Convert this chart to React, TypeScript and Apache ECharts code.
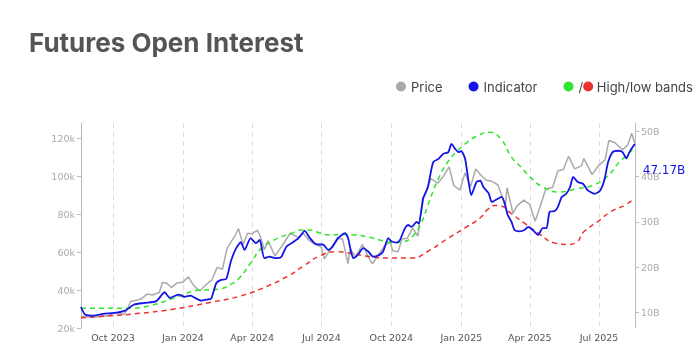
import React, { useEffect, useRef } from 'react';
import * as echarts from 'echarts';

// ---- Data ----
const priceDates = [
  '2023-08-20','2023-08-27','2023-09-03','2023-09-10','2023-09-17','2023-09-24','2023-10-01','2023-10-08','2023-10-15','2023-10-20',
  '2023-10-24','2023-11-01','2023-11-08','2023-11-15','2023-11-22','2023-12-01','2023-12-05','2023-12-10','2023-12-17','2023-12-24',
  '2024-01-01','2024-01-08','2024-01-15','2024-01-23','2024-02-01','2024-02-08','2024-02-15','2024-02-22','2024-02-28','2024-03-05',
  '2024-03-09','2024-03-14','2024-03-20','2024-03-26','2024-04-01','2024-04-08','2024-04-13','2024-04-17','2024-04-22','2024-05-01',
  '2024-05-08','2024-05-15','2024-05-21','2024-06-01','2024-06-07','2024-06-15','2024-06-22','2024-07-01','2024-07-05','2024-07-15',
  '2024-07-22','2024-07-29','2024-08-05','2024-08-08','2024-08-15','2024-08-24','2024-09-01','2024-09-06','2024-09-15','2024-09-22',
  '2024-09-29','2024-10-03','2024-10-10','2024-10-15','2024-10-22','2024-10-29','2024-11-05','2024-11-11','2024-11-15','2024-11-22',
  '2024-12-01','2024-12-08','2024-12-16','2024-12-22','2024-12-30','2025-01-06','2025-01-13','2025-01-20','2025-01-27','2025-02-03',
  '2025-02-10','2025-02-18','2025-02-25','2025-02-28','2025-03-02','2025-03-10','2025-03-15','2025-03-24','2025-04-01','2025-04-08',
  '2025-04-15','2025-04-22','2025-05-01','2025-05-08','2025-05-15','2025-05-22','2025-05-30','2025-06-08','2025-06-11','2025-06-22',
  '2025-07-01','2025-07-09','2025-07-14','2025-07-22','2025-08-01','2025-08-08','2025-08-13','2025-08-17',
];
const priceValues = [
  26100,26000,25900,25800,26500,26300,27900,27900,27100,29700,
  34000,34600,35600,37900,37400,38700,44000,43800,41400,43700,
  44200,47000,42500,39500,43100,45300,52000,51000,62000,66000,
  68300,72500,64000,70000,69700,71600,67000,61300,66000,58000,
  62000,66200,70100,67700,70000,66200,64300,62700,56500,63000,
  67500,66800,54000,61700,57500,64100,57300,53900,59200,63300,
  65600,60600,60300,67000,67400,72700,68500,88700,91000,98900,
  96400,99800,105000,95200,92800,102000,94500,104000,100500,98000,
  97400,95600,88000,84000,94000,80500,84300,87500,85200,76300,
  84500,93400,94200,103000,103500,110600,104000,105600,109500,101000,
  106000,108700,119000,117800,114000,116700,122800,117500,
];

const indicatorDates = [
  '2023-08-20','2023-08-25','2023-09-05','2023-09-18','2023-10-03','2023-10-17','2023-10-29','2023-11-12','2023-11-27','2023-12-08',
  '2023-12-15','2023-12-26','2024-01-03','2024-01-11','2024-01-16','2024-01-25','2024-02-03','2024-02-07','2024-02-14','2024-02-20',
  '2024-02-27','2024-03-04','2024-03-11','2024-03-17','2024-03-22','2024-03-30','2024-04-06','2024-04-11','2024-04-17','2024-04-24',
  '2024-05-01','2024-05-09','2024-05-16','2024-05-23','2024-06-01','2024-06-09','2024-06-16','2024-06-22','2024-06-29','2024-07-03',
  '2024-07-10','2024-07-16','2024-07-23','2024-08-01','2024-08-05','2024-08-09','2024-08-12','2024-08-18','2024-08-25','2024-09-01',
  '2024-09-07','2024-09-14','2024-09-20','2024-09-27','2024-10-01','2024-10-08','2024-10-12','2024-10-19','2024-10-23','2024-10-28',
  '2024-11-03','2024-11-06','2024-11-12','2024-11-18','2024-11-25','2024-12-02','2024-12-08','2024-12-15','2024-12-19','2024-12-24',
  '2024-12-28','2025-01-01','2025-01-06','2025-01-10','2025-01-14','2025-01-21','2025-01-26','2025-01-30','2025-02-06','2025-02-10',
  '2025-02-19','2025-02-23','2025-02-27','2025-03-03','2025-03-08','2025-03-12','2025-03-19','2025-03-25','2025-03-30','2025-04-05',
  '2025-04-12','2025-04-18','2025-04-23','2025-04-27','2025-05-04','2025-05-08','2025-05-13','2025-05-19','2025-05-24','2025-05-28',
  '2025-06-03','2025-06-10','2025-06-16','2025-06-25','2025-07-02','2025-07-08','2025-07-13','2025-07-19','2025-07-26','2025-08-01',
  '2025-08-06','2025-08-10','2025-08-17',
];
const indicatorValues = [ // billions
  11.2,9.6,9.3,9.7,9.9,10.4,11.75,12.1,12.5,14.45,
  13.2,13.95,13.45,13.7,13.3,12.6,12.9,13.0,16.5,17.2,
  17.4,21.25,24.2,25.5,23.8,26.4,25.3,26.0,22.0,22.3,
  22.0,22.2,24.5,25.3,26.4,28.0,26.4,25.3,25.0,25.0,
  23.8,24.6,26.4,27.5,26.5,23.4,22.0,22.7,24.2,23.4,
  22.3,22.6,23.4,26.4,25.7,25.4,25.9,28.6,29.3,28.9,
  30.0,29.6,35.2,37.7,43.2,43.9,45.0,45.4,47.2,46.1,
  45.4,45.6,43.9,39.5,35.9,38.8,39.1,37.7,36.3,34.4,
  35.2,35.5,34.1,31.5,30.0,28.2,27.9,28.2,28.9,28.2,
  27.1,28.6,28.6,32.2,32.4,33.3,35.5,36.2,37.7,39.9,
  38.8,38.4,37.0,36.2,36.8,39.2,43.2,45.4,45.7,45.4,
  44.0,45.4,47.17,
];

const highBandDates = [
  '2023-08-20','2023-10-20','2023-11-19','2023-12-15','2024-01-01','2024-01-20','2024-02-05','2024-02-19','2024-03-03','2024-03-14',
  '2024-03-30','2024-04-13','2024-04-26','2024-05-09','2024-05-23','2024-06-05','2024-06-15','2024-06-28','2024-07-10','2024-07-26',
  '2024-08-14','2024-09-02','2024-09-20','2024-10-01','2024-10-16','2024-10-30','2024-11-10','2024-11-18','2024-12-01','2024-12-14',
  '2024-12-27','2025-01-09','2025-01-21','2025-02-07','2025-02-22','2025-03-08','2025-03-21','2025-04-01','2025-04-18','2025-05-11',
  '2025-06-02','2025-06-23','2025-07-11','2025-07-28','2025-08-17',
];
const highBandValues = [
  10.9,10.9,11.5,12.85,13.9,14.9,15.0,15.2,16.1,17.4,
  20.9,24.2,25.6,26.7,27.5,28.2,28.2,27.6,27.1,27.2,
  27.1,26.6,25.8,25.4,25.6,27.0,30.0,33.7,39.2,43.2,
  45.7,47.6,48.9,49.8,48.3,44.3,42.0,40.0,37.7,36.6,
  37.3,38.1,39.9,43.2,46.3,
];

const lowBandDates = [
  '2023-08-20','2023-09-23','2023-11-05','2023-12-19','2024-02-02','2024-03-16','2024-04-21','2024-05-21','2024-06-08','2024-06-29',
  '2024-07-21','2024-08-11','2024-09-03','2024-09-29','2024-10-29','2024-11-17','2024-12-13','2025-01-08','2025-01-26','2025-02-05',
  '2025-02-14','2025-02-22','2025-03-07','2025-03-25','2025-04-12','2025-05-04','2025-05-20','2025-06-01','2025-06-11','2025-06-29',
  '2025-07-16','2025-08-04','2025-08-17',
];
const lowBandValues = [
  8.8,9.2,9.8,10.7,12.1,13.6,15.8,18.3,20.3,22.5,
  23.4,23.0,22.3,22.0,22.0,23.4,26.2,28.9,30.9,32.8,
  33.6,33.5,31.9,29.7,27.5,25.3,25.0,25.4,27.8,30.0,
  32.2,33.7,35.2,
];

const leftTicks = [20000, 40000, 60000, 80000, 100000, 120000];
const rightTicks = [10, 20, 30, 40, 50];
const monthNames = ['Jan','Feb','Mar','Apr','May','Jun','Jul','Aug','Sep','Oct','Nov','Dec'];

const zip = (d: string[], v: number[]) => d.map((x, i) => [x, v[i]]);

const C_PRICE = '#aaaaaa';
const C_IND = '#1414e6';
const C_HIGH = '#2ee62e';
const C_LOW = '#ee3030';
const TICK_FONT = 'DejaVu Sans';

export default function App() {
  const ref = useRef<HTMLDivElement>(null);
  useEffect(() => {
    const chart = echarts.init(ref.current!, null, { renderer: 'svg' });
    chart.setOption({
      animation: false,
      title: {
        text: 'Futures Open Interest',
        left: 24,
        top: 24,
        textStyle: { fontFamily: 'Inter', fontSize: 26, fontWeight: 'bold', color: '#555555' },
      },
      legend: {
        left: 396,
        top: 80,
        width: 320,
        padding: 0,
        icon: 'circle',
        itemWidth: 10,
        itemHeight: 10,
        itemGap: 26,
        textStyle: {
          fontFamily: 'Inter',
          fontSize: 13,
          color: '#444444',
          rich: {
            s: { fontFamily: 'Inter', fontSize: 13, color: '#444444' },
            r: { width: 10, height: 10, borderRadius: 5, backgroundColor: C_LOW },
            t: { fontFamily: 'Inter', fontSize: 13, color: '#444444' },
          },
        },
        formatter: (name: string) => (name === 'High/low bands' ? '{s|/}{r|}{t| High/low bands}' : name),
        data: [
          { name: 'Price', itemStyle: { color: C_PRICE, borderWidth: 0 } },
          { name: 'Indicator', itemStyle: { color: C_IND, borderWidth: 0 } },
          { name: 'High/low bands', itemStyle: { color: C_HIGH, borderWidth: 0 } },
        ],
      },
      grid: { left: 81, right: 62, top: 123, bottom: 27 },
      xAxis: {
        type: 'time',
        min: +new Date(2023, 7, 20),
        max: +new Date(2025, 7, 17, 8),
        splitNumber: 8,
        axisLine: { show: false },
        axisTick: { show: false },
        axisLabel: {
          color: '#555555',
          fontFamily: TICK_FONT,
          fontSize: 9.5,
          margin: 4,
          formatter: (v: number) => {
            const d = new Date(v);
            if (d.getDate() !== 1 || d.getMonth() % 3 !== 0) return '';
            return `${monthNames[d.getMonth()]} ${d.getFullYear()}`;
          },
        },
        splitLine: { show: true, lineStyle: { color: '#dddddd', width: 1, type: [5, 4] } },
      },
      yAxis: [
        {
          type: 'value',
          position: 'left',
          min: 20000,
          max: 128200,
          axisLine: { show: true, lineStyle: { color: '#bbbbbb' } },
          axisTick: { show: true, length: 4, lineStyle: { color: '#bbbbbb' }, customValues: leftTicks },
          axisLabel: {
            customValues: leftTicks,
            color: '#aaaaaa',
            fontFamily: TICK_FONT,
            fontSize: 9.5,
            margin: 6,
            formatter: (v: number) => `${v / 1000}k`,
          },
          splitLine: { show: false },
        },
        {
          type: 'value',
          position: 'right',
          min: 6.56,
          max: 51.83,
          axisLine: { show: true, lineStyle: { color: '#bbbbbb' } },
          axisTick: { show: true, length: 4, lineStyle: { color: '#bbbbbb' }, customValues: rightTicks },
          axisLabel: {
            customValues: rightTicks,
            color: '#aaaaaa',
            fontFamily: TICK_FONT,
            fontSize: 9.5,
            margin: 6,
            formatter: (v: number) => `${v}B`,
          },
          splitLine: { show: false },
        },
      ],
      series: [
        {
          name: 'Price',
          type: 'line',
          yAxisIndex: 0,
          data: zip(priceDates, priceValues),
          symbol: 'none',
          lineStyle: { color: C_PRICE, width: 1.5 },
          itemStyle: { color: C_PRICE },
          z: 1,
        },
        {
          name: 'High/low bands',
          type: 'line',
          yAxisIndex: 1,
          data: zip(highBandDates, highBandValues),
          symbol: 'none',
          smooth: 0.5,
          lineStyle: { color: C_HIGH, width: 1.5, type: [5, 4] },
          itemStyle: { color: C_HIGH },
          z: 2,
        },
        {
          name: 'Low band',
          type: 'line',
          yAxisIndex: 1,
          data: zip(lowBandDates, lowBandValues),
          symbol: 'none',
          smooth: 0.5,
          lineStyle: { color: C_LOW, width: 1.5, type: [5, 4] },
          itemStyle: { color: C_LOW },
          z: 2,
        },
        {
          name: 'Indicator',
          type: 'line',
          yAxisIndex: 1,
          data: zip(indicatorDates, indicatorValues),
          symbol: 'none',
          smooth: 0.2,
          lineStyle: { color: C_IND, width: 1.8 },
          itemStyle: { color: C_IND },
          z: 3,
          endLabel: {
            show: true,
            formatter: (p: any) => `${Number(p.value[1]).toFixed(2)}B`,
            color: C_IND,
            fontFamily: TICK_FONT,
            fontSize: 12,
            distance: 8,
            offset: [0, 26],
          },
        },
      ],
    });
    return () => chart.dispose();
  }, []);
  return <div ref={ref} style={{ position: 'fixed', left: 0, top: 0, width: 697, height: 355 }} />;
}
